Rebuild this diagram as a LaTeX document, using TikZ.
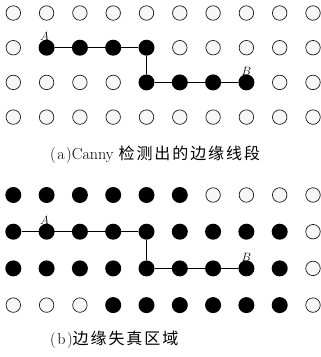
\documentclass[tikz,border=0pt]{standalone}
\usepackage{fontspec}
\newfontfamily\cjk[LetterSpace=12]{Noto Sans CJK SC}
\usepackage{xcolor}
\usetikzlibrary{positioning}
\definecolor{DOTrim}{HTML}{1A1A1A}
\definecolor{DOTfill}{HTML}{F7F7F7}

\tikzset{
  dotopen/.style={circle, draw=DOTrim, fill=DOTfill, line width=0.7pt, minimum size=14.5pt, inner sep=0pt},
  dotfull/.style={circle, fill=black, minimum size=16pt, inner sep=0pt},
  edgeline/.style={black, line width=0.9pt},
  ptlabel/.style={font=\fontsize{13}{13}\selectfont, inner sep=0pt, anchor=south},
  caption/.style={font=\fontsize{16}{18}\selectfont, anchor=west, inner sep=0pt}
}

\begin{document}
\begin{tikzpicture}[x=1pt, y=-1pt]
\useasboundingbox (0,0) rectangle (321,357);
% grid (a): row / first filled column / last filled column
\foreach \r/\first/\last in {1/10/-1,2/1/4,3/4/7,4/10/-1}{
  \foreach \c in {0,...,9}{
    \pgfmathtruncatemacro\isfull{and(\c>=\first,\c<=\last)}
    \ifnum\isfull=1
      \node[dotfull] (a-\r-\c) at (13.3+33.3*\c, 13+34.7*\r-34.7) {};
    \else
      \node[dotopen] (a-\r-\c) at (13.3+33.3*\c, 13+34.7*\r-34.7) {};
    \fi
  }
}
\draw[edgeline] (a-2-1) -- (a-2-4) -- (a-3-4) -- (a-3-7);
\node[ptlabel, xshift=-2pt] (a-A) at ([yshift=-1pt]a-2-1.north) {$A$};
\node[ptlabel] (a-B) at ([yshift=-1pt]a-3-7.north) {$B$};
\node[caption] (cap-a) at (50,155) {(\hspace{1.5pt}a\hspace{1.5pt})Canny\hspace{5pt}{\cjk 检测出的边缘线段}};

% grid (b)
\foreach \r/\first/\last in {1/0/5,2/0/8,3/0/8,4/3/8}{
  \foreach \c in {0,...,9}{
    \pgfmathtruncatemacro\isfull{and(\c>=\first,\c<=\last)}
    \ifnum\isfull=1
      \node[dotfull] (b-\r-\c) at (13.3+33.3*\c, 195+36.7*\r-36.7) {};
    \else
      \node[dotopen] (b-\r-\c) at (13.3+33.3*\c, 195+36.7*\r-36.7) {};
    \fi
  }
}
\draw[edgeline] (b-2-0) -- (b-2-4) -- (b-3-4) -- (b-3-7);
\node[ptlabel, xshift=-2pt] (b-A) at ([yshift=-1pt]b-2-1.north) {$A$};
\node[ptlabel] (b-B) at ([yshift=-1pt]b-3-7.north) {$B$};
\node[caption] (cap-b) at (50,340) {(\hspace{1.5pt}b\hspace{1.5pt}){\cjk 边缘失真区域}};
\end{tikzpicture}
\end{document}
